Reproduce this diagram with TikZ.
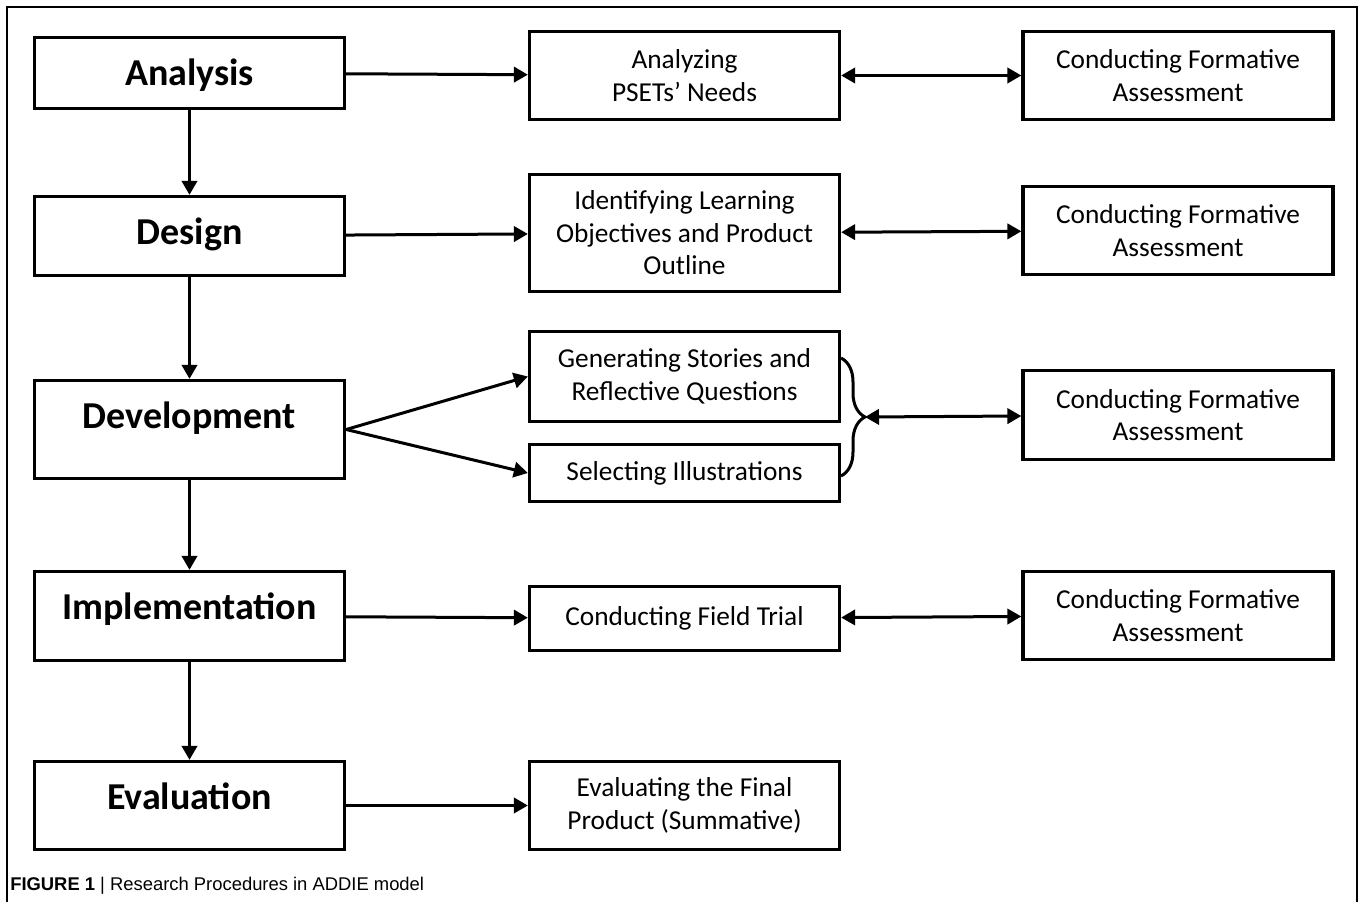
\documentclass[tikz,border=0pt]{standalone}
\usepackage{fontspec}
\setmainfont{Carlito}
\newfontfamily\capfont{Liberation Sans}
\usetikzlibrary{arrows.meta,decorations.pathreplacing}

\tikzset{
  phase/.style={draw, line width=2.5pt, minimum width=232.5pt, inner sep=0pt,
    text height=36pt, font=\bfseries\fontsize{28.5}{31}\selectfont},
  taskbox/.style={draw, line width=2.5pt, minimum width=232.5pt, align=center,
    inner sep=2pt, font=\fontsize{20.5}{24.4}\selectfont},
  flow/.style={line width=2.25pt, -{Triangle[length=10.5pt,width=11.5pt]}},
  both/.style={line width=2.25pt, {Triangle[length=10.5pt,width=11.5pt]}-{Triangle[length=10.5pt,width=11.5pt]}}
}

\begin{document}
\begin{tikzpicture}[x=0.75pt,y=0.75pt,yscale=-1,xscale=1]
\useasboundingbox (0,0) rectangle (1362,902);

%Frame
\draw [line width=1pt] (7,905) -- (7,7) -- (1357,7) -- (1357,905) ;

%ADDIE phases
\node [phase, text depth=17.25pt] (ana) at (189.5,73) {Analysis};
\node [phase, text depth=23.25pt] (des) at (189.5,236) {Design};
\node [phase, text depth=37.5pt] (dev) at (189.5,429.5) {Development};
\node [phase, text depth=30.75pt] (imp) at (189.5,616) {Implementation};
\node [phase, text depth=30pt] (eva) at (189.5,805.5) {Evaluation};

%Procedures
\node [taskbox, minimum height=66pt] (need) at (684.5,75.5) {Analyzing\\PSETs’ Needs};
\node [taskbox, minimum height=87.75pt] (obj) at (684.5,233) {Identifying Learning\\Objectives and Product\\Outline};
\node [taskbox, minimum height=67.5pt] (gen) at (684.5,376.5) {Generating Stories and\\Reflective Questions};
\node [taskbox, minimum height=42.75pt] (sel) at (684.5,473) {Selecting Illustrations};
\node [taskbox, minimum height=48pt] (trial) at (684.5,618.5) {Conducting Field Trial};
\node [taskbox, minimum height=66pt] (final) at (684.5,805.5) {Evaluating the Final\\Product (Summative)};

%Formative assessment
\node [taskbox, minimum height=66pt] (fa1) at (1178,75.5) {Conducting Formative\\Assessment};
\node [taskbox, minimum height=66pt] (fa2) at (1178,230.5) {Conducting Formative\\Assessment};
\node [taskbox, minimum height=66.75pt] (fa3) at (1178,415) {Conducting Formative\\Assessment};
\node [taskbox, minimum height=66pt] (fa4) at (1178,615.5) {Conducting Formative\\Assessment};

%Down the phases
\draw [flow] (ana) -- (des) ;
\draw [flow] (des) -- (dev) ;
\draw [flow] (dev) -- (imp) ;
\draw [flow] (imp) -- (eva) ;

%Phases to procedures
\draw [flow] (ana) -- (need) ;
\draw [flow] (des) -- (obj) ;
\draw [flow] (dev.east) -- (gen.west) ;
\draw [flow] (dev.east) -- (sel.west) ;
\draw [flow] (imp) -- (trial) ;
\draw [flow] (eva) -- (final) ;

%Brace
\coordinate (bt) at (841,358);
\coordinate (bb) at (841,476);
\coordinate (btip) at (865,417);
\draw [line width=2.25pt, decorate, decoration={brace, amplitude=18pt}] (bt) -- (bb) ;

%Procedures to assessment
\draw [both] (need) -- (fa1) ;
\draw [both] (obj) -- (fa2) ;
\draw [both] (btip) -- (fa3) ;
\draw [both] (trial) -- (fa4) ;

%Caption
\node [anchor=base west, inner sep=0pt, font=\capfont\fontsize{13.8}{15}\selectfont] (cap) at (10,890)
  {\textbf{FIGURE 1} | Research Procedures in ADDIE model};

\end{tikzpicture}
\end{document}
